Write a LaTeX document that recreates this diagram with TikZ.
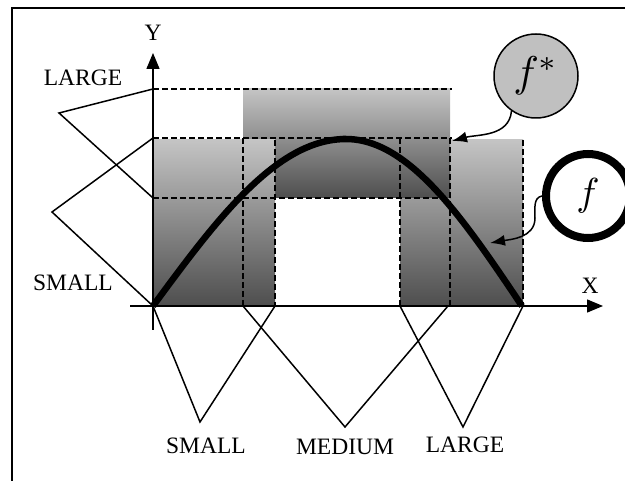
\documentclass[tikz,border=0pt]{standalone}
\usepackage{graphicx}
\usepackage{fontspec}
\setmainfont{Liberation Serif}
\usetikzlibrary{arrows.meta}
\definecolor{shadelight}{HTML}{C4C4C4}
\definecolor{shadedark}{HTML}{4E4E4E}
\definecolor{circlegray}{HTML}{C0C0C0}

\begin{document}
\begin{tikzpicture}[
    x=1pt, y=-1pt,
    term/.style={font=\fontsize{23.5}{25}\selectfont, inner sep=0pt},
    axis/.style={line width=1.5pt, -{Triangle[length=16pt, width=13pt]}},
    member/.style={line width=1.5pt},
    guide/.style={line width=1.5pt, dash pattern=on 6pt off 3pt},
    ruleblock/.style={top color=shadelight, bottom color=shadedark},
    output/.style={line width=6.5pt},
    fstar/.style={circle, draw, fill=circlegray, line width=1.5pt, minimum size=84pt, inner sep=0pt},
    fcirc/.style={circle, draw, fill=white, line width=8pt, minimum size=84pt, inner sep=0pt},
    pointer/.style={line width=1.5pt, -{Latex[length=15pt, width=11pt]}}
]

\useasboundingbox (0,0) rectangle (625,481);
\draw[line width=1.6pt] (12,481) |- (626,8);

\shade[ruleblock] (400,140) rectangle (523,306);
\shade[ruleblock] (243,89) rectangle (450,198);
\shade[ruleblock] (153,140) rectangle (275,306);

\draw[guide] (153,89) -- (452,89);
\draw[guide] (153,138) -- (452,138);
\draw[guide] (153,198) -- (450,198);
\foreach \gx/\gy in {243/138, 275/140, 400/138, 450/138, 523/140}
    \draw[guide] (\gx,\gy) -- (\gx,306);

% output curve, peak a bit right of centre
\draw[output] plot[domain=153:346, samples=40] (\x, {306-167*sin((\x-153)/193*90)})
    -- plot[domain=346:522, samples=40] (\x, {306-167*sin((522-\x)/176*90)});

\draw[member] (153,89) -- (59,113) -- (153,198);
\draw[member] (153,138) -- (52,212) -- (153,306);
\draw[member] (153,306) -- (200,422) -- (275,306);
\draw[member] (243,306) -- (345,427) -- (448,306);
\draw[member] (400,306) -- (463,427) -- (523,306);

\draw[axis] (153,330) -- (153,53);
\draw[axis] (130,306) -- (603,306);

\node[term] (ylab) at (153,33) {Y};
\node[term] (xlab) at (590,286) {X};
\node[term] (ylarge) at (83,78) {LARGE};
\node[term] (ysmall) at (73,283) {SMALL};
\node[term] (xsmall) at (206,446) {SMALL};
\node[term] (xmedium) at (345,447) {MEDIUM};
\node[term] (xlarge) at (465,445) {LARGE};

\coordinate (peakedge) at (452,141);
\coordinate (curvept) at (490,243);

\node[fstar] (fstar) at (536,76) {\scalebox{4.3}{$f^{*}$}};
\node[fcirc] (fout) at (588,196) {\scalebox{3.9}{$f$}};

\draw[pointer] (fstar.235) to[out=-95, in=15] (peakedge);
\draw[pointer] (fout.west) to[out=190, in=90] (535,218) to[out=-90, in=10] (curvept);

\end{tikzpicture}
\end{document}
